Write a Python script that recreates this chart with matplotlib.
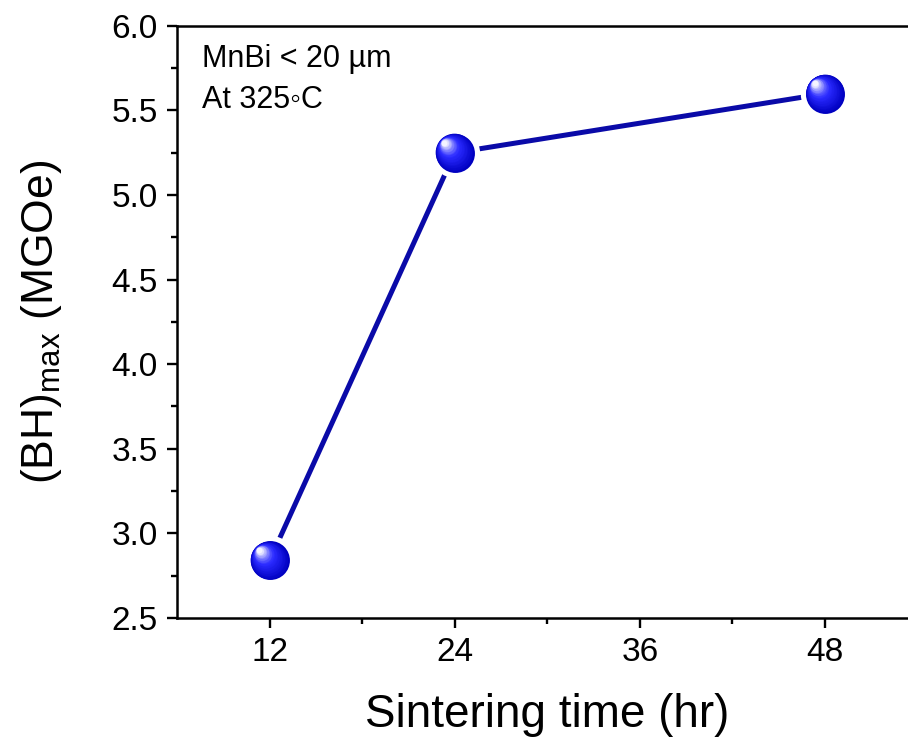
import numpy as np
import matplotlib.pyplot as plt
from matplotlib.colors import to_rgb
from matplotlib.transforms import offset_copy

plt.rcParams['font.family'] = ['Liberation Sans', 'DejaVu Sans']
plt.rcParams['mathtext.fontset'] = 'custom'
plt.rcParams['mathtext.rm'] = 'Liberation Sans'
plt.rcParams['mathtext.it'] = 'Liberation Sans:italic'

# Sintering time (hr) and max energy product (MGOe)
sinter_time = [12, 24, 48]
bh_max = [2.84, 5.25, 5.60]

x_ticks = [12, 24, 36, 48]
y_ticks = [2.5, 3.0, 3.5, 4.0, 4.5, 5.0, 5.5, 6.0]

line_color = '#0a0aa8'
ball_dark = '#0000c0'
ball_light = '#f4f4ff'

fig = plt.figure(figsize=(9.08, 7.49), dpi=100)
ax = fig.add_axes([0.195, 0.175, 0.8155, 0.7904])

# connecting line, with a white halo under each ball so the line stops short
ax.plot(sinter_time, bh_max, color=line_color, lw=3.6, solid_capstyle='round', zorder=2)
ax.plot(sinter_time, bh_max, 'o', ms=35.5, color='white', mec='none', zorder=3)

# shaded spheres: stack shrinking discs that drift toward a highlight
size = 28
n_layers = 28
for i in range(n_layers):
    t = i / (n_layers - 1)
    frac = 1 - 0.85 * t
    c0 = np.array(to_rgb(ball_dark))
    c1 = np.array(to_rgb('#2a2aff'))
    if t < 0.55:
        col = c0 + (c1 - c0) * (t / 0.55)
    else:
        col = c1 + (np.array(to_rgb(ball_light)) - c1) * ((t - 0.55) / 0.45) ** 1.3
    shift = size * (1 - frac) * 0.5 * 0.62
    tr = offset_copy(ax.transData, fig=fig, x=-shift, y=shift, units='points')
    ax.plot(sinter_time, bh_max, 'o', ms=size * frac, color=col, mec='none',
            transform=tr, zorder=4 + i)

ax.set_xlim(6, 54)
ax.set_ylim(2.5, 6.0)
ax.set_xticks(x_ticks)
ax.set_xticks([18, 30, 42], minor=True)
ax.set_yticks(y_ticks)
ax.set_yticks(np.arange(2.75, 6.0, 0.5), minor=True)
ax.set_yticklabels([f'{v:.1f}' for v in y_ticks])

ax.tick_params(which='major', direction='out', length=7, width=1.7, labelsize=24, pad=7)
ax.tick_params(which='minor', direction='out', length=4.5, width=1.7)
for s in ax.spines.values():
    s.set_linewidth(1.8)

ax.set_xlabel('Sintering time (hr)', fontsize=33, labelpad=18)
ax.set_ylabel(r'(BH)$_{\mathrm{max}}$ (MGOe)', fontsize=32, labelpad=34)

ax.text(0.034, 0.931, 'MnBi < 20 µm', transform=ax.transAxes, fontsize=22, va='baseline')
ax.text(0.034, 0.861, 'At 325◦C', transform=ax.transAxes, fontsize=22, va='baseline')

fig.savefig('out.png', dpi=100)
